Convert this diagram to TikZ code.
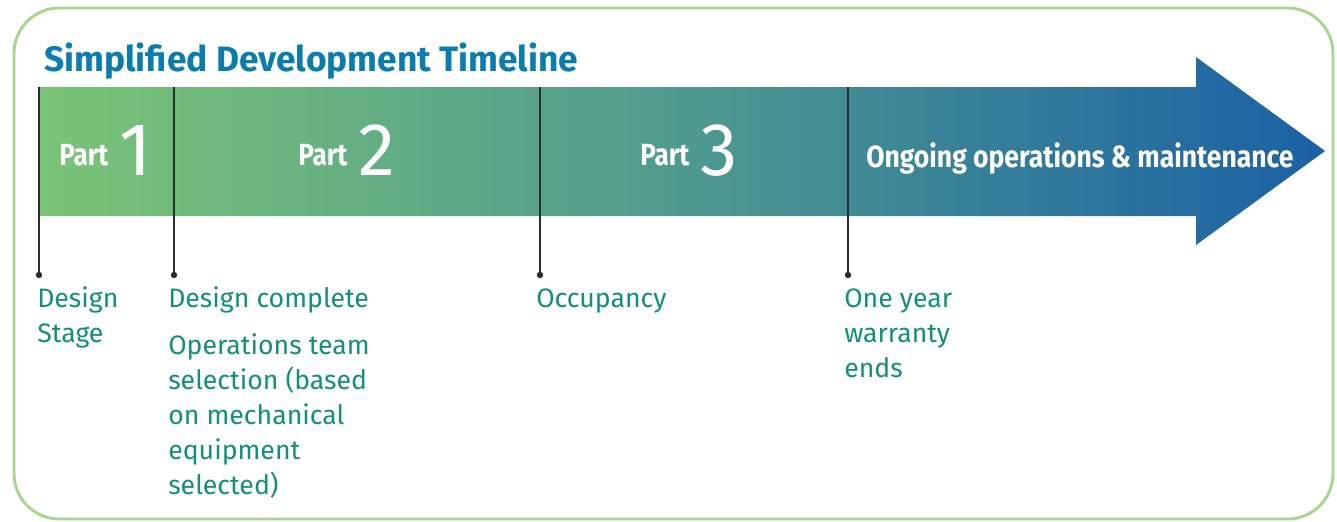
\documentclass[tikz,border=0pt]{standalone}
\usepackage{fontspec}
\setmainfont{Fira Sans}
\definecolor{framegreen}{HTML}{A9D68E}
\definecolor{titleblue}{HTML}{0A7DAF}
\definecolor{labelgreen}{HTML}{12907A}
\definecolor{gA}{HTML}{7AC476}
\definecolor{gB}{HTML}{4F9A8F}
\definecolor{gC}{HTML}{1A61A5}
\definecolor{tickgray}{HTML}{2B2B2B}
\tikzset{
  titletext/.style={text=titleblue, font=\fontsize{26.5}{30}\selectfont\bfseries, inner sep=0pt},
  partlbl/.style={text=white, font=\fontsize{23}{28}\selectfont\bfseries, inner sep=0pt},
  lbl/.style={text=labelgreen, font=\fontsize{20}{26.25}\selectfont, align=left, inner sep=0pt},
  tick/.style={draw=tickgray, line width=1.1pt},
  tickdot/.style={fill=tickgray},
}
\newcommand{\bigdigit}[1]{\raisebox{-7.5pt}{\fontsize{56}{60}\selectfont\mdseries #1}}
\begin{document}
\begin{tikzpicture}[x=0.75pt,y=-0.75pt]
\useasboundingbox (0,0) rectangle (1337,521);
\fill[white] (0,0) rectangle (1337,521);
% frame
\draw[framegreen, line width=2.2pt, rounded corners=34pt] (14,8) rectangle (1333,519);
% title
\node[titletext, anchor=base west] (title) at (44,71) {Simplified Development Timeline};
% arrow
\shade[left color=gA, right color=gC, middle color=gB]
  (39,87) -- (1196,87) -- (1196,57) -- (1325,151) -- (1196,245) -- (1196,216) -- (39,216) -- cycle;
% ticks
\foreach \n/\x in {1/39,2/174,3/540,4/848}{
  \coordinate (t\n) at (\x,87);
  \coordinate (d\n) at (\x,275);
  \draw[tick] (t\n) -- (d\n);
  \fill[tickdot] (d\n) circle[radius=2.4pt];
}
% part labels
\node[partlbl, anchor=base west] (p1) at (59,165) {\scalebox{0.85}[1]{Part}\hspace{8pt}\bigdigit{1}};
\node[partlbl, anchor=base west] (p2) at (298,165) {\scalebox{0.85}[1]{Part}\hspace{8pt}\bigdigit{2}};
\node[partlbl, anchor=base west] (p3) at (640,165) {\scalebox{0.85}[1]{Part}\hspace{8pt}\bigdigit{3}};
\node[partlbl, anchor=base west] (p4) at (866,167) {\scalebox{0.865}[1]{Ongoing operations \& maintenance}};
% labels (base anchor = last line)
\node[lbl, anchor=base west] (l1) at (37,342) {Design\\Stage};
\node[lbl, anchor=base west] (l2) at (168,307) {Design complete};
\node[lbl, anchor=base west] (l2b) at (168,494) {Operations team\\selection (based\\on mechanical\\equipment\\selected)};
\node[lbl, anchor=base west] (l3) at (536,307) {Occupancy};
\node[lbl, anchor=base west] (l4) at (844,377) {One year\\warranty\\ends};
\end{tikzpicture}
\end{document}
